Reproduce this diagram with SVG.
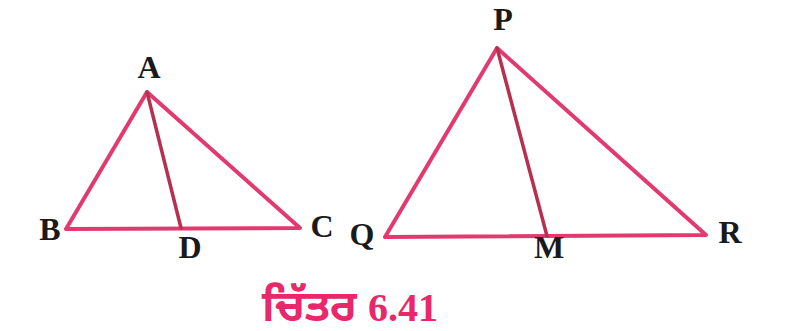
<svg xmlns="http://www.w3.org/2000/svg" width="799" height="331" viewBox="0 0 799 331">
<style>
.ln{stroke:#e23a6e;stroke-width:4;fill:none;stroke-linejoin:round;stroke-linecap:round}
.md{stroke:#b8304f;stroke-width:3.5;fill:none;stroke-linecap:round}
.lb{font-family:"Liberation Serif","Times New Roman",serif;font-weight:bold;font-size:32px;fill:#1a1a1a;text-anchor:middle}
.cap{font-family:"Noto Sans Gurmukhi","Noto Sans","Liberation Sans",sans-serif;font-weight:bold;fill:#e8286a}
</style>
<rect width="799" height="331" fill="#ffffff"/>
<g id="connectors">
<polygon class="ln" points="147,92 66,229 300,228"/>
<line class="md" x1="147" y1="92" x2="181" y2="228"/>
<polygon class="ln" points="497,48 385,237 706,235"/>
<line class="md" x1="497" y1="48" x2="547" y2="236"/>
</g>
<g id="node-A"><text class="lb" x="149" y="78">A</text></g>
<g id="node-B"><text class="lb" x="50" y="240">B</text></g>
<g id="node-C"><text class="lb" x="322" y="237">C</text></g>
<g id="node-D"><text class="lb" x="190" y="258">D</text></g>
<g id="node-P"><text class="lb" x="503" y="30">P</text></g>
<g id="node-Q"><text class="lb" x="362" y="245">Q</text></g>
<g id="node-R"><text class="lb" x="730" y="243">R</text></g>
<g id="node-M"><text class="lb" x="549" y="258">M</text></g>
<g id="caption"><text class="cap" x="262" y="321"><tspan font-size="43">ਚਿੱਤਰ</tspan><tspan font-family="Liberation Serif, serif" font-size="40" x="368">6.41</tspan></text></g>
</svg>
